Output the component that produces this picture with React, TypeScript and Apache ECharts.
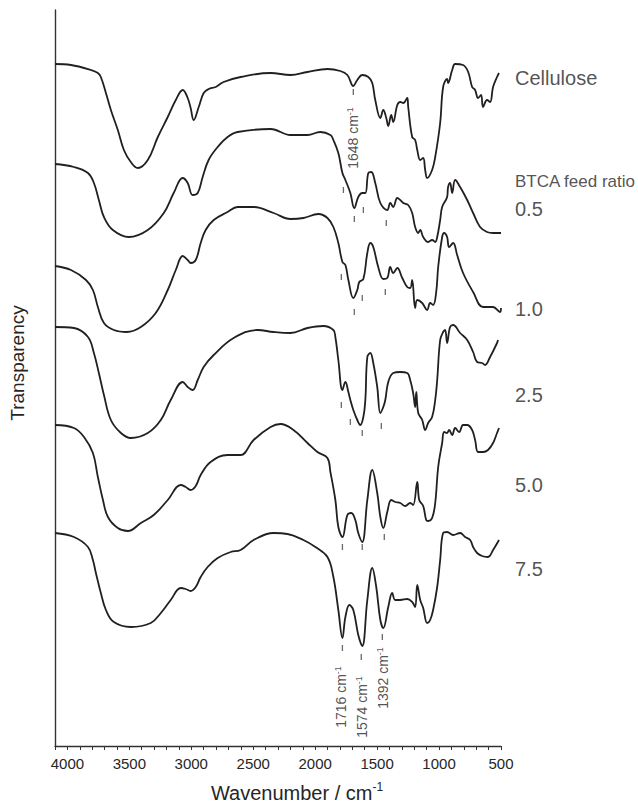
import React, { useEffect, useRef } from "react";
import * as echarts from "echarts";

// Wavenumber (cm-1) vs stacked transparency (arbitrary units)
const cellulose: [number, number][] = [
  [4100, 68.2], [3971, 68.1], [3810, 67.6], [3754, 67.3], [3730, 66.9], [3689, 65.3], [3649, 63.6],
  [3593, 61.6], [3544, 59.6], [3488, 58.4], [3432, 57.8], [3351, 58.6], [3270, 60.9], [3190, 62.9],
  [3125, 64.6], [3069, 65.6], [3029, 64.8], [3005, 63.8], [2981, 62.6], [2940, 63.9], [2900, 65.3],
  [2860, 65.7], [2803, 65.9], [2739, 66.4], [2602, 66.9], [2360, 67.3], [2199, 67.1], [2062, 67.4],
  [1901, 67.7], [1797, 67.5], [1740, 67.1], [1692, 66.0], [1660, 66.6], [1620, 67.1], [1571, 66.9],
  [1539, 66.3], [1515, 64.6], [1474, 62.8], [1450, 63.6], [1426, 62.8], [1410, 62.0], [1386, 63.1],
  [1370, 62.4], [1337, 64.1], [1313, 64.4], [1289, 64.3], [1257, 64.8], [1249, 63.9], [1217, 60.9],
  [1193, 60.6], [1176, 59.6], [1152, 58.6], [1128, 58.8], [1112, 57.6], [1096, 56.8], [1056, 57.6],
  [1031, 58.9], [991, 62.3], [967, 65.9], [935, 66.7], [927, 66.3], [894, 67.6], [870, 68.2],
  [806, 68.1], [765, 67.4], [733, 65.9], [709, 65.6], [685, 64.8], [661, 65.1], [645, 63.9],
  [613, 64.6], [588, 64.4], [564, 65.9], [532, 66.9], [516, 67.3],
];

const ratio05: [number, number][] = [
  [4100, 58.2], [3947, 57.9], [3834, 57.3], [3786, 56.3], [3746, 54.6], [3705, 52.9], [3633, 51.6],
  [3504, 50.9], [3351, 51.6], [3222, 53.3], [3142, 55.3], [3069, 56.8], [3029, 56.3], [2989, 55.1],
  [2948, 55.3], [2908, 56.9], [2860, 58.6], [2787, 59.9], [2707, 60.9], [2626, 61.4], [2360, 61.7],
  [2199, 61.1], [2062, 61.1], [1958, 61.4], [1877, 61.1], [1853, 60.6], [1813, 59.3], [1780, 57.3],
  [1756, 56.6], [1716, 55.3], [1684, 53.8], [1652, 54.9], [1620, 55.3], [1595, 55.3], [1571, 57.3],
  [1547, 57.4], [1515, 56.3], [1474, 54.3], [1418, 53.6], [1394, 54.3], [1370, 53.9], [1337, 54.8],
  [1313, 54.6], [1289, 54.3], [1249, 54.1], [1217, 53.3], [1193, 51.9], [1168, 51.3], [1152, 51.6],
  [1128, 50.9], [1088, 50.4], [1056, 50.6], [1031, 50.4], [1015, 50.9], [991, 52.6], [975, 53.9],
  [935, 54.9], [927, 55.9], [911, 56.3], [894, 55.3], [870, 56.6], [830, 55.9], [773, 54.6],
  [725, 53.3], [669, 51.9], [613, 51.4], [564, 51.3], [500, 51.3],
];

const ratio10: [number, number][] = [
  [4100, 48.0], [3971, 47.6], [3850, 46.6], [3794, 45.6], [3754, 43.9], [3705, 42.3], [3625, 41.6],
  [3520, 41.4], [3407, 41.9], [3287, 43.3], [3190, 45.6], [3125, 47.6], [3069, 49.0], [3029, 48.6],
  [3005, 48.3], [2964, 48.6], [2924, 50.3], [2884, 51.6], [2819, 52.6], [2707, 53.4], [2626, 53.9],
  [2497, 53.9], [2336, 53.3], [2199, 52.7], [2095, 52.8], [1974, 53.2], [1901, 52.8], [1853, 51.9],
  [1813, 50.3], [1780, 48.4], [1756, 48.1], [1732, 46.6], [1692, 44.8], [1660, 45.6], [1644, 46.4],
  [1611, 46.7], [1579, 49.3], [1555, 50.3], [1531, 49.9], [1491, 47.9], [1450, 46.7], [1418, 46.8],
  [1394, 47.9], [1370, 47.3], [1337, 47.8], [1297, 46.8], [1257, 45.9], [1233, 45.8], [1217, 46.6],
  [1193, 43.8], [1176, 44.6], [1136, 44.3], [1096, 43.6], [1072, 44.3], [1048, 44.1], [1023, 45.4],
  [1007, 47.9], [975, 50.9], [959, 51.3], [935, 50.9], [919, 49.9], [886, 50.3], [854, 49.1],
  [806, 47.3], [725, 45.4], [645, 43.9], [564, 43.9], [508, 43.4], [500, 43.8],
];

const ratio25: [number, number][] = [
  [4100, 41.9], [3947, 41.8], [3834, 40.9], [3786, 39.3], [3746, 37.3], [3705, 35.1], [3649, 32.6],
  [3568, 31.3], [3488, 30.8], [3351, 31.3], [3246, 32.6], [3166, 34.6], [3069, 36.4], [3029, 35.9],
  [2989, 35.6], [2948, 36.6], [2900, 37.9], [2819, 39.1], [2658, 40.8], [2465, 41.6], [2336, 41.4],
  [2199, 41.3], [2062, 41.8], [1934, 42.0], [1853, 41.6], [1837, 40.9], [1813, 38.6], [1780, 35.6],
  [1756, 36.4], [1732, 35.4], [1716, 34.6], [1692, 33.6], [1660, 32.6], [1636, 32.1], [1611, 32.9],
  [1595, 34.6], [1579, 38.9], [1555, 39.3], [1531, 38.3], [1499, 35.9], [1474, 33.3], [1450, 33.9],
  [1434, 34.6], [1410, 36.4], [1370, 37.3], [1313, 37.4], [1257, 37.3], [1233, 36.6], [1209, 35.3],
  [1193, 33.9], [1184, 35.4], [1168, 33.3], [1136, 32.6], [1112, 31.6], [1088, 32.3], [1056, 32.9],
  [1031, 34.6], [1015, 36.6], [991, 40.6], [967, 41.4], [951, 41.6], [935, 40.3], [911, 41.9],
  [886, 42.1], [830, 41.3], [773, 40.6], [725, 39.4], [693, 38.4], [653, 38.3], [629, 38.1],
  [588, 38.9], [532, 40.3], [524, 40.6],
];

const ratio50: [number, number][] = [
  [4100, 32.1], [3947, 31.8], [3866, 30.9], [3794, 29.3], [3754, 26.9], [3713, 24.6], [3673, 22.9],
  [3593, 21.8], [3512, 21.5], [3407, 22.3], [3303, 23.1], [3190, 24.6], [3085, 26.1], [3045, 25.9],
  [3005, 25.6], [2964, 26.0], [2924, 27.1], [2844, 28.4], [2707, 29.1], [2602, 29.1], [2497, 30.6],
  [2360, 31.9], [2280, 32.2], [2175, 31.6], [2062, 30.3], [1982, 29.4], [1901, 28.8], [1877, 27.4],
  [1837, 24.6], [1813, 21.9], [1780, 20.9], [1740, 23.1], [1708, 23.3], [1676, 22.6], [1652, 21.3],
  [1620, 20.4], [1579, 24.6], [1539, 27.6], [1499, 25.3], [1474, 22.9], [1450, 21.8], [1418, 23.4],
  [1386, 24.6], [1354, 24.4], [1313, 24.3], [1273, 24.0], [1233, 24.3], [1209, 24.1], [1176, 26.4],
  [1160, 24.6], [1128, 24.0], [1104, 22.6], [1088, 22.5], [1056, 22.8], [1031, 24.3], [1007, 27.9],
  [975, 30.3], [959, 31.4], [935, 31.3], [919, 31.6], [894, 31.1], [870, 31.8], [838, 31.4],
  [806, 32.1], [773, 32.1], [733, 31.6], [709, 30.6], [685, 29.4], [645, 29.4], [605, 29.6],
  [564, 30.3], [532, 31.3], [516, 31.8],
];

const ratio75: [number, number][] = [
  [4100, 21.3], [3947, 20.9], [3834, 19.9], [3794, 18.6], [3770, 17.3], [3730, 15.3], [3689, 13.6],
  [3625, 12.4], [3488, 11.9], [3327, 12.3], [3246, 13.3], [3166, 14.6], [3085, 15.8], [3045, 15.7],
  [3005, 15.5], [2964, 15.9], [2924, 16.9], [2868, 17.9], [2787, 18.8], [2682, 19.4], [2602, 19.6],
  [2497, 20.6], [2336, 21.3], [2223, 21.2], [2095, 20.6], [1998, 19.9], [1901, 18.9], [1853, 16.9],
  [1813, 13.6], [1780, 10.8], [1756, 12.9], [1724, 14.1], [1692, 13.6], [1652, 11.1], [1620, 10.0],
  [1579, 14.6], [1539, 17.8], [1507, 15.9], [1474, 12.6], [1450, 11.8], [1410, 13.9], [1378, 15.3],
  [1354, 14.6], [1313, 14.6], [1257, 14.7], [1217, 14.4], [1193, 13.9], [1176, 16.1], [1152, 14.6],
  [1128, 13.8], [1096, 12.3], [1072, 12.6], [1048, 13.6], [1015, 15.9], [991, 18.6], [967, 21.3],
  [935, 21.4], [886, 21.1], [830, 21.3], [790, 20.9], [749, 20.6], [725, 19.9], [693, 19.3],
  [653, 19.0], [605, 18.9], [564, 19.6], [516, 20.6],
];

// Short dashes marking band positions
const bandMarks: [number, number][] = [
  [1692, 65.4],
  [1772, 55.6], [1684, 52.7], [1611, 53.6], [1426, 52.3],
  [1789, 46.9], [1684, 43.4], [1620, 44.8], [1434, 45.4],
  [1789, 34.1], [1716, 32.4], [1620, 31.3], [1466, 32.0],
  [1780, 19.9], [1620, 19.9], [1442, 20.9],
  [1780, 9.8], [1628, 8.9], [1458, 10.9],
];

const bandLabels = ["1648", "1716", "1574", "1392"];
const bandLabelPos: [number, number][] = [
  [1692, 60.8], [1789, 4.9], [1620, 3.9], [1450, 6.8],
];

const sampleLabels = ["Cellulose", "BTCA feed ratio", "0.5", "1.0", "2.5", "5.0", "7.5"];
const sampleLabelY = [66.8, 56.5, 53.7, 43.7, 35.1, 26.1, 17.7];
const sampleLabelX = 387;

const xTickStep = 100;
const FONT = "'Liberation Sans', Arial, sans-serif";
const INK = "#231f20";
const TEXT = "#262626";

export default function App() {
  const ref = useRef<HTMLDivElement>(null);
  useEffect(() => {
    document.body.style.margin = "0";
    if (!ref.current) return;
    const chart = echarts.init(ref.current, undefined, { renderer: "svg" });
    const spectra = [cellulose, ratio05, ratio10, ratio25, ratio50, ratio75];
    const lineSeries = spectra.map((d, i) => ({
      type: "line",
      name: sampleLabels[i === 0 ? 0 : i + 1],
      data: d,
      showSymbol: false,
      symbol: "none",
      smooth: 0.4,
      lineStyle: { color: INK, width: 1.8 },
      silent: true,
    }));
    chart.setOption({
      animation: false,
      textStyle: { fontFamily: FONT },
      grid: { left: 54, right: 137, top: 10, bottom: 62 },
      xAxis: {
        type: "value",
        inverse: true,
        min: 500,
        max: 4100,
        interval: xTickStep,
        splitLine: { show: false },
        axisLine: { lineStyle: { color: "#333", width: 1.4 } },
        axisTick: { length: 4, lineStyle: { color: "#333", width: 1 } },
        axisLabel: {
          margin: 10,
          color: TEXT,
          fontSize: 15,
          fontFamily: FONT,
          formatter: (v: number) => (v % 500 === 0 ? String(v) : ""),
        },
        name: "{a|Wavenumber / cm}{s|-1}",
        nameLocation: "middle",
        nameGap: 35,
        nameTextStyle: {
          padding: [0, 0, 0, 38],
          rich: {
            a: { fontSize: 20, lineHeight: 23, color: TEXT, fontFamily: FONT },
            s: { fontSize: 12, lineHeight: 12, verticalAlign: "top", color: TEXT, fontFamily: FONT },
          },
        },
      },
      yAxis: {
        type: "value",
        min: 0,
        max: 73.6,
        splitLine: { show: false },
        axisTick: { show: false },
        axisLabel: { show: false },
        axisLine: { show: true, lineStyle: { color: "#333", width: 1.4 } },
        name: "Transparency",
        nameLocation: "middle",
        nameGap: 28,
        nameTextStyle: { fontSize: 19, color: TEXT, fontFamily: FONT, padding: [0, 0, 0, 30] },
      },
      series: [
        ...lineSeries,
        {
          type: "scatter",
          data: bandMarks,
          symbol: "rect",
          symbolSize: [1.3, 6],
          itemStyle: { color: "#444" },
          silent: true,
        },
        {
          type: "scatter",
          data: bandLabels.map((t, i) => ({ value: bandLabelPos[i], name: t })),
          symbolSize: 0,
          silent: true,
          label: {
            show: true,
            position: "inside",
            rotate: 90,
            formatter: (p: any) => `{a|${p.name} cm}{s|-1}`,
            rich: {
              a: { fontSize: 14, lineHeight: 16, color: TEXT, fontFamily: FONT },
              s: { fontSize: 9, lineHeight: 9, verticalAlign: "top", color: TEXT, fontFamily: FONT },
            },
          },
        },
        {
          type: "scatter",
          clip: false,
          data: sampleLabels.map((t, i) => ({
            value: [sampleLabelX, sampleLabelY[i]],
            name: t,
            label: { fontSize: i === 1 ? 17 : 20 },
          })),
          symbolSize: 0,
          silent: true,
          label: {
            show: true,
            position: "right",
            distance: 0,
            align: "left",
            color: TEXT,
            fontFamily: FONT,
            formatter: (p: any) => p.name,
          },
        },
      ],
    });
    return () => chart.dispose();
  }, []);
  return <div ref={ref} style={{ width: 638, height: 808 }} />;
}
